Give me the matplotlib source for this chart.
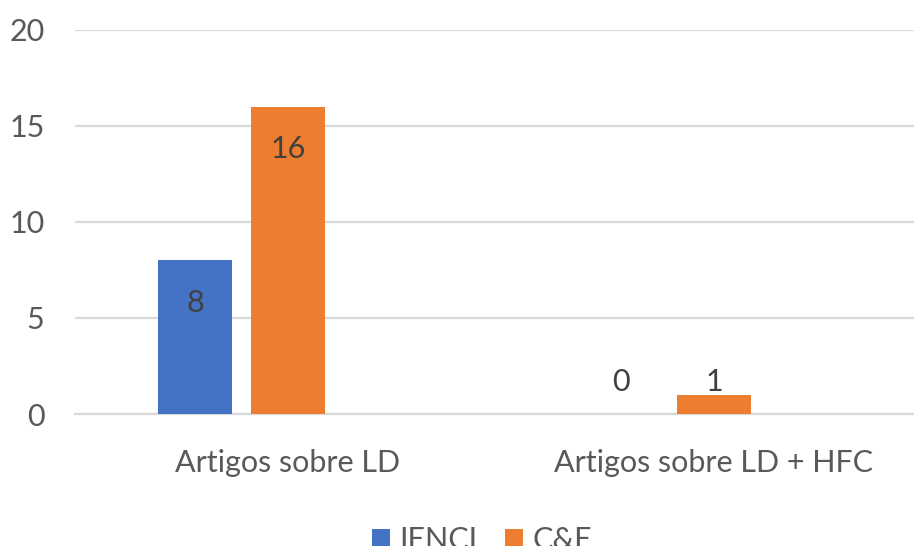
import matplotlib
matplotlib.use('Agg')
import matplotlib.pyplot as plt
import numpy as np

categories = ['Artigos sobre LD', 'Artigos sobre LD + HFC']
series_names = ['IENCI', 'C&E']
ienci = [8, 0]
ce = [16, 1]
series_colors = ['#4472C4', '#ED7D31']

plt.rcParams['font.family'] = ['Lato', 'DejaVu Sans']
FS = 22

fig = plt.figure(figsize=(9.14, 5.46), dpi=100)
# plot area runs a little past the right edge, like the source sheet
ax = fig.add_axes([75 / 914, 1 - 414 / 546, 852 / 914, 384 / 546])

x = np.arange(len(categories))
width = 0.174
step = 0.218
slots = 3  # the chart reserves a third (empty) series slot per group

bars = []
for i, (vals, name, col) in enumerate(zip([ienci, ce], series_names, series_colors)):
    offs = (i - (slots - 1) / 2) * step
    b = ax.bar(x + offs, vals, width, color=col, label=name, zorder=3)
    bars.append(b)
    for rect, v in zip(b, vals):
        cx = rect.get_x() + rect.get_width() / 2
        if v >= 5:
            ax.annotate(str(v), (cx, v), xytext=(0, -30.5), textcoords='offset points',
                        ha='center', va='center', fontsize=FS, color='#404040')
        else:
            ax.annotate(str(v), (cx, 0), xytext=(0, 23), textcoords='offset points',
                        ha='center', va='center', fontsize=FS, color='#404040')

ax.set_xlim(-0.5, len(categories) - 0.5)
ax.set_ylim(0, 20)
ax.set_yticks([0, 5, 10, 15, 20])
ax.set_xticks(x)
ax.set_xticklabels(categories)
ax.yaxis.grid(True, color='#D9D9D9', linewidth=1.6, zorder=0)
ax.set_axisbelow(True)
for s in ['top', 'right', 'left']:
    ax.spines[s].set_visible(False)
ax.spines['bottom'].set_color('#D9D9D9')
ax.spines['bottom'].set_linewidth(1.6)
ax.tick_params(axis='y', length=0, pad=22, labelsize=FS, labelcolor='#595959')
ax.tick_params(axis='x', length=0, pad=25, labelsize=FS, labelcolor='#595959')

leg = fig.legend(handles=bars, labels=series_names, loc='center',
                 bbox_to_anchor=(482 / 914, 1 - 540 / 546), ncol=2, frameon=False,
                 fontsize=FS, handlelength=0.6, handleheight=0.6, handletextpad=0.3,
                 columnspacing=0.9)
for t in leg.get_texts():
    t.set_color('#595959')

fig.savefig('out.png', dpi=100)
